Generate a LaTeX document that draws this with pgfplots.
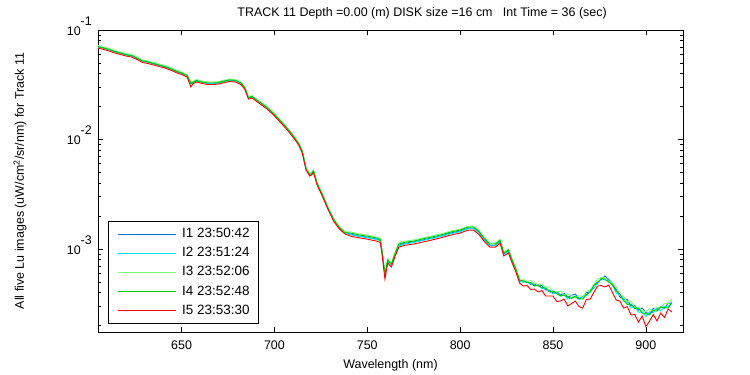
\documentclass[border=0pt]{standalone}
\usepackage{pgfplots}
\usepackage{pgfplotstable}
\pgfplotsset{compat=1.18}
\usepackage{fontspec}
\setmainfont{Liberation Sans}
\definecolor{cIa}{RGB}{0,112,224}
\definecolor{cIb}{RGB}{0,230,240}
\definecolor{cIc}{RGB}{120,255,120}
\definecolor{cId}{RGB}{0,200,0}
\definecolor{cIe}{RGB}{255,0,0}
\pgfplotstableread{
wl I1 I2 I3 I4 I5
605 0.0707 0.0699 0.0722 0.0707 0.0685
608 0.0685 0.0678 0.0700 0.0685 0.0664
611 0.0664 0.0657 0.0678 0.0664 0.0643
614 0.0637 0.0630 0.0650 0.0637 0.0617
617 0.0617 0.0611 0.0630 0.0617 0.0598
620 0.0598 0.0591 0.0610 0.0598 0.0579
623 0.0585 0.0579 0.0598 0.0585 0.0567
626 0.0555 0.0549 0.0567 0.0555 0.0538
629 0.0521 0.0516 0.0532 0.0521 0.0505
632 0.0510 0.0504 0.0521 0.0510 0.0494
635 0.0494 0.0489 0.0505 0.0494 0.0479
638 0.0479 0.0474 0.0489 0.0479 0.0464
641 0.0464 0.0459 0.0474 0.0464 0.0450
644 0.0445 0.0440 0.0454 0.0445 0.0431
647 0.0422 0.0418 0.0431 0.0422 0.0409
650 0.0405 0.0400 0.0413 0.0405 0.0392
653 0.0384 0.0380 0.0392 0.0384 0.0372
655 0.0328 0.0320 0.0340 0.0325 0.0302
656 0.0331 0.0328 0.0338 0.0331 0.0321
658 0.0346 0.0342 0.0353 0.0346 0.0335
661 0.0335 0.0332 0.0343 0.0335 0.0325
664 0.0328 0.0325 0.0335 0.0328 0.0318
667 0.0328 0.0325 0.0335 0.0328 0.0318
670 0.0331 0.0328 0.0338 0.0331 0.0321
673 0.0342 0.0338 0.0349 0.0342 0.0331
676 0.0350 0.0346 0.0357 0.0350 0.0339
679 0.0346 0.0342 0.0353 0.0346 0.0335
682 0.0328 0.0325 0.0335 0.0328 0.0318
684 0.0298 0.0295 0.0305 0.0298 0.0289
686 0.0241 0.0239 0.0247 0.0241 0.0234
688 0.0247 0.0244 0.0252 0.0247 0.0239
690 0.0232 0.0230 0.0237 0.0232 0.0225
693 0.0214 0.0211 0.0218 0.0214 0.0207
696 0.0196 0.0194 0.0200 0.0196 0.0190
699 0.0176 0.0175 0.0180 0.0176 0.0171
702 0.0156 0.0154 0.0159 0.0156 0.0151
705 0.0137 0.0136 0.0140 0.0137 0.0133
708 0.0120 0.0118 0.0122 0.0120 0.0116
711 0.0103 0.0102 0.0105 0.0103 0.0100
713 0.00920 0.00910 0.00939 0.00920 0.00891
715 0.00777 0.00769 0.00794 0.00777 0.00753
717 0.00544 0.00538 0.00555 0.00544 0.00527
719 0.00479 0.00474 0.00489 0.00479 0.00464
720 0.00489 0.00484 0.00500 0.00489 0.00474
721 0.00516 0.00511 0.00527 0.00516 0.00500
723 0.00396 0.00392 0.00405 0.00396 0.00384
726 0.00308 0.00304 0.00314 0.00308 0.00298
729 0.00234 0.00232 0.00239 0.00234 0.00227
732 0.00184 0.00182 0.00188 0.00184 0.00178
735 0.00157 0.00155 0.00160 0.00157 0.00152
738 0.00141 0.00140 0.00144 0.00141 0.00137
741 0.00137 0.00135 0.00143 0.00140 0.00131
745 0.00132 0.00131 0.00138 0.00135 0.00127
750 0.00128 0.00127 0.00134 0.00131 0.00123
755 0.00123 0.00122 0.00128 0.00126 0.00118
757 0.00120 0.00119 0.00125 0.00122 0.00115
758 0.000920 0.000910 0.000960 0.000939 0.000882
759.5 0.000580 0.000570 0.000610 0.000590 0.000532
761 0.000777 0.000769 0.000811 0.000793 0.000745
763 0.000714 0.000707 0.000745 0.000730 0.000685
765 0.000900 0.000891 0.000939 0.000919 0.000863
767 0.00108 0.00107 0.00113 0.00111 0.00104
770 0.00113 0.00111 0.00118 0.00115 0.00108
775 0.00116 0.00115 0.00121 0.00118 0.00111
780 0.00121 0.00120 0.00126 0.00124 0.00116
785 0.00126 0.00125 0.00132 0.00129 0.00121
790 0.00132 0.00131 0.00138 0.00135 0.00127
795 0.00140 0.00138 0.00146 0.00143 0.00134
800 0.00146 0.00144 0.00152 0.00149 0.00140
804 0.00154 0.00153 0.00161 0.00158 0.00148
807 0.00155 0.00154 0.00162 0.00159 0.00149
810 0.00143 0.00141 0.00149 0.00146 0.00137
813 0.00122 0.00121 0.00127 0.00125 0.00117
816 0.00108 0.00107 0.00113 0.00111 0.00104
819 0.00108 0.00107 0.00113 0.00111 0.00104
821.5 0.00118 0.00117 0.00123 0.00120 0.00113
823.5 0.000900 0.000891 0.000939 0.000919 0.000863
826 0.000959 0.000948 0.00100 0.000979 0.000919
828 0.000777 0.000769 0.000811 0.000793 0.000745
830 0.000644 0.000637 0.000671 0.000657 0.000617
832 0.000510 0.000505 0.000532 0.000521 0.000489
834 0.000510 0.000499 0.000532 0.000510 0.000459
836 0.000506 0.000495 0.000506 0.000495 0.000464
838 0.000474 0.000484 0.000516 0.000494 0.000427
840 0.000479 0.000459 0.000489 0.000459 0.000431
842 0.000459 0.000469 0.000469 0.000469 0.000405
844 0.000464 0.000436 0.000474 0.000445 0.000418
846 0.000422 0.000440 0.000449 0.000440 0.000372
848 0.000422 0.000413 0.000450 0.000405 0.000372
850 0.000396 0.000388 0.000413 0.000413 0.000372
852 0.000409 0.000400 0.000409 0.000392 0.000332
854 0.000380 0.000372 0.000413 0.000372 0.000335
856 0.000396 0.000380 0.000380 0.000380 0.000349
858 0.000364 0.000349 0.000388 0.000364 0.000302
860 0.000377 0.000361 0.000377 0.000354 0.000318
862 0.000388 0.000364 0.000357 0.000372 0.000335
864 0.000353 0.000346 0.000376 0.000353 0.000298
866 0.000364 0.000372 0.000364 0.000349 0.000289
868 0.000401 0.000377 0.000410 0.000384 0.000346
870 0.000404 0.000413 0.000422 0.000404 0.000349
872 0.000465 0.000436 0.000474 0.000465 0.000401
874 0.000499 0.000489 0.000532 0.000489 0.000459
876 0.000527 0.000538 0.000549 0.000538 0.000464
878 0.000567 0.000521 0.000543 0.000532 0.000450
880 0.000521 0.000510 0.000543 0.000499 0.000469
882 0.000464 0.000474 0.000484 0.000474 0.000401
884 0.000431 0.000396 0.000449 0.000413 0.000342
886 0.000364 0.000380 0.000380 0.000388 0.000335
888 0.000349 0.000335 0.000364 0.000342 0.000289
890 0.000345 0.000324 0.000331 0.000311 0.000298
892 0.000302 0.000290 0.000336 0.000315 0.000250
894 0.000305 0.000299 0.000293 0.000287 0.000252
896 0.000277 0.000265 0.000295 0.000289 0.000215
898 0.000289 0.000265 0.000271 0.000260 0.000244
900 0.000263 0.000242 0.000269 0.000257 0.000196
902 0.000256 0.000267 0.000284 0.000250 0.000220
904 0.000286 0.000263 0.000269 0.000275 0.000252
906 0.000277 0.000289 0.000295 0.000271 0.000220
908 0.000296 0.000272 0.000290 0.000296 0.000260
910 0.000287 0.000299 0.000318 0.000293 0.000237
912 0.000321 0.000296 0.000315 0.000289 0.000283
914 0.000321 0.000328 0.000349 0.000321 0.000266
}\datatable
\begin{document}
\begin{tikzpicture}
\begin{axis}[
  scale only axis,
  width=585bp, height=302bp,
  at={(0,0)}, anchor=south west,
  font=\fontsize{12.5}{14}\selectfont,
  xmin=605, xmax=920,
  ymode=log, ymin=1.746e-4, ymax=0.1,
  xtick={650,700,750,800,850,900},
  ytick={0.001,0.01,0.1},
  yticklabels={{10\raisebox{0.8em}{-3}},{10\raisebox{0.8em}{-2}},{10\raisebox{0.8em}{-1}}},
  minor ytick={2e-4,3e-4,4e-4,5e-4,6e-4,7e-4,8e-4,9e-4,0.002,0.003,0.004,0.005,0.006,0.007,0.008,0.009,0.02,0.03,0.04,0.05,0.06,0.07,0.08,0.09},
  /pgf/number format/assume math mode=true,
  /pgf/number format/1000 sep={},
  tick align=inside,
  major tick length=5bp, minor tick length=3bp,
  tick style={black, line width=0.6bp},
  axis line style={black, line width=0.8bp},
  xticklabel style={anchor=center, yshift=-13bp, font=\fontsize{12.5}{14}\selectfont},
  yticklabel style={anchor=base east, inner sep=0pt, xshift=-6bp, yshift=-5bp, font=\fontsize{12.5}{14}\selectfont},
  xlabel={Wavelength (nm)},
  xlabel style={at={(axis description cs:0.5,0)}, anchor=center, yshift=-33bp},
  ylabel={All five Lu images (uW/cm\textsuperscript{2}/sr/nm) for Track 11},
  ylabel style={at={(axis description cs:-0.1333,0.5)}, anchor=center},
  title={TRACK 11 Depth =0.00 (m) DISK size =16 cm\ \ \ Int Time = 36 (sec)},
  title style={at={(axis description cs:0.554,1)}, anchor=base, yshift=8bp},
  legend cell align=left,
  legend image code/.code={\draw[#1] (0bp,0bp) -- (58bp,0bp);},
  legend style={at={(axis description cs:0.017,0.026)}, anchor=south west,
    draw=black, line width=0.8bp, fill=white, inner xsep=9bp, inner ysep=7bp,
    font=\fontsize{13.5}{15}\selectfont,
    nodes={inner sep=0pt, text height=9.5bp, text depth=2.5bp, line width=0.8bp},
    row sep=7.2bp,
    /tikz/every odd column/.append style={column sep=6bp}},
]
\addplot[cIa, line width=0.9bp] table[x=wl, y=I1]{\datatable};
\addlegendentry{I1 23:50:42}
\addplot[cIb, line width=0.9bp] table[x=wl, y=I2]{\datatable};
\addlegendentry{I2 23:51:24}
\addplot[cIc, line width=0.9bp] table[x=wl, y=I3]{\datatable};
\addlegendentry{I3 23:52:06}
\addplot[cId, line width=0.9bp] table[x=wl, y=I4]{\datatable};
\addlegendentry{I4 23:52:48}
\addplot[cIe, line width=0.9bp] table[x=wl, y=I5]{\datatable};
\addlegendentry{I5 23:53:30}
\end{axis}
\pgfresetboundingbox
\useasboundingbox (-98bp,-43bp) rectangle (652bp,332bp);
\end{tikzpicture}
\end{document}
